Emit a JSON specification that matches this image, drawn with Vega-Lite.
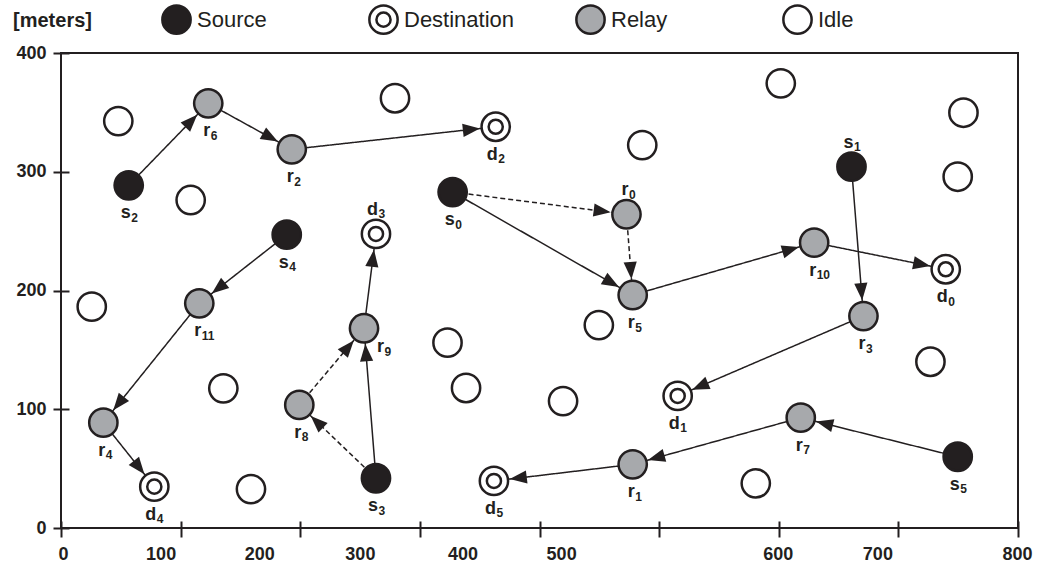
{
  "$schema": "https://vega.github.io/schema/vega-lite/v6.json",
  "autosize": {"type": "none"},
  "width": 957,
  "height": 475,
  "padding": {"left": 61, "top": 53, "right": 19, "bottom": 39},
  "background": "white",
  "config": {"font": "Liberation Sans", "view": {"stroke": "#231f20", "strokeWidth": 2}},
  "datasets": {
    "nodes": [
      {"id": "s0", "type": "Source", "letter": "s", "sub": "0", "lab": "below", "x": 327.4, "y": 282.9},
      {"id": "s1", "type": "Source", "letter": "s", "sub": "1", "lab": "above", "x": 660.8, "y": 304.3},
      {"id": "s2", "type": "Source", "letter": "s", "sub": "2", "lab": "below", "x": 56.6, "y": 288.6},
      {"id": "s3", "type": "Source", "letter": "s", "sub": "3", "lab": "below", "x": 263.3, "y": 41.9},
      {"id": "s4", "type": "Source", "letter": "s", "sub": "4", "lab": "below", "x": 188.7, "y": 247.0},
      {"id": "s5", "type": "Source", "letter": "s", "sub": "5", "lab": "below", "x": 749.6, "y": 60.0},
      {"id": "d0", "type": "Destination", "letter": "d", "sub": "0", "lab": "below", "x": 739.6, "y": 217.9},
      {"id": "d1", "type": "Destination", "letter": "d", "sub": "1", "lab": "below", "x": 515.5, "y": 111.2},
      {"id": "d2", "type": "Destination", "letter": "d", "sub": "2", "lab": "below", "x": 363.4, "y": 337.9},
      {"id": "d3", "type": "Destination", "letter": "d", "sub": "3", "lab": "above", "x": 263.3, "y": 247.6},
      {"id": "d4", "type": "Destination", "letter": "d", "sub": "4", "lab": "below", "x": 78.0, "y": 34.8},
      {"id": "d5", "type": "Destination", "letter": "d", "sub": "5", "lab": "below", "x": 361.9, "y": 39.6},
      {"id": "r0", "type": "Relay", "letter": "r", "sub": "0", "lab": "above", "x": 472.7, "y": 264.2},
      {"id": "r1", "type": "Relay", "letter": "r", "sub": "1", "lab": "below", "x": 477.9, "y": 53.6},
      {"id": "r2", "type": "Relay", "letter": "r", "sub": "2", "lab": "below", "x": 192.9, "y": 318.9},
      {"id": "r3", "type": "Relay", "letter": "r", "sub": "3", "lab": "below", "x": 670.8, "y": 178.5},
      {"id": "r4", "type": "Relay", "letter": "r", "sub": "4", "lab": "below", "x": 35.4, "y": 88.7},
      {"id": "r5", "type": "Relay", "letter": "r", "sub": "5", "lab": "below", "x": 477.9, "y": 196.2},
      {"id": "r6", "type": "Relay", "letter": "r", "sub": "6", "lab": "below", "x": 123.1, "y": 357.6},
      {"id": "r7", "type": "Relay", "letter": "r", "sub": "7", "lab": "below", "x": 618.4, "y": 92.9},
      {"id": "r8", "type": "Relay", "letter": "r", "sub": "8", "lab": "below", "x": 199.2, "y": 103.6},
      {"id": "r9", "type": "Relay", "letter": "r", "sub": "9", "lab": "right", "x": 253.3, "y": 168.2},
      {"id": "r10", "type": "Relay", "letter": "r", "sub": "10", "lab": "below", "x": 629.6, "y": 240.3},
      {"id": "r11", "type": "Relay", "letter": "r", "sub": "11", "lab": "below", "x": 115.6, "y": 189.2},
      {"id": "i1", "type": "Idle", "x": 47.9, "y": 342.7},
      {"id": "i2", "type": "Idle", "x": 108.4, "y": 276.2},
      {"id": "i3", "type": "Idle", "x": 279.2, "y": 361.9},
      {"id": "i4", "type": "Idle", "x": 601.7, "y": 374.5},
      {"id": "i5", "type": "Idle", "x": 754.4, "y": 349.7},
      {"id": "i6", "type": "Idle", "x": 485.9, "y": 322.5},
      {"id": "i7", "type": "Idle", "x": 749.6, "y": 295.8},
      {"id": "i8", "type": "Idle", "x": 25.7, "y": 186.4},
      {"id": "i9", "type": "Idle", "x": 323.1, "y": 156.1},
      {"id": "i10", "type": "Idle", "x": 135.7, "y": 117.6},
      {"id": "i11", "type": "Idle", "x": 338.6, "y": 117.9},
      {"id": "i12", "type": "Idle", "x": 449.6, "y": 170.9},
      {"id": "i13", "type": "Idle", "x": 419.7, "y": 106.9},
      {"id": "i14", "type": "Idle", "x": 726.8, "y": 140.0},
      {"id": "i15", "type": "Idle", "x": 580.8, "y": 37.6},
      {"id": "i16", "type": "Idle", "x": 158.8, "y": 32.8}
    ],
    "edges": [
      {"from": "s2", "to": "r6", "route": "primary"},
      {"from": "r6", "to": "r2", "route": "primary"},
      {"from": "r2", "to": "d2", "route": "primary"},
      {"from": "s4", "to": "r11", "route": "primary"},
      {"from": "r11", "to": "r4", "route": "primary"},
      {"from": "r4", "to": "d4", "route": "primary"},
      {"from": "s3", "to": "r9", "route": "primary"},
      {"from": "r9", "to": "d3", "route": "primary"},
      {"from": "s0", "to": "r5", "route": "primary"},
      {"from": "r5", "to": "r10", "route": "primary"},
      {"from": "r10", "to": "d0", "route": "primary"},
      {"from": "s1", "to": "r3", "route": "primary"},
      {"from": "r3", "to": "d1", "route": "primary"},
      {"from": "s5", "to": "r7", "route": "primary"},
      {"from": "r7", "to": "r1", "route": "primary"},
      {"from": "r1", "to": "d5", "route": "primary"},
      {"from": "s0", "to": "r0", "route": "alternate"},
      {"from": "r0", "to": "r5", "route": "alternate"},
      {"from": "s3", "to": "r8", "route": "alternate"},
      {"from": "r8", "to": "r9", "route": "alternate"}
    ]
  },
  "encoding": {
    "x": {
      "field": "x", "type": "quantitative", "scale": {"domain": [0, 800], "nice": false},
      "axis": {
        "values": [0, 100, 200, 300, 400, 500, 600, 700, 800], "title": null, "grid": false, "domain": false,
        "ticks": true, "offset": -7, "tickSize": 16, "tickWidth": 2, "tickColor": "#231f20",
        "labelFontSize": 18, "labelFontWeight": "bold", "labelColor": "#231f20", "labelPadding": 8,
        "labelFlush": false, "labelOverlap": false, "zindex": 1,
        "labelOffset": {"condition": [
          {"test": "datum.value === 0", "value": 2},
          {"test": "datum.value === 100", "value": -20},
          {"test": "datum.value === 200", "value": -41},
          {"test": "datum.value === 300", "value": -60},
          {"test": "datum.value === 400", "value": -77},
          {"test": "datum.value === 500", "value": -98},
          {"test": "datum.value === 700", "value": -21}
        ], "value": -1}
      }
    },
    "y": {
      "field": "y", "type": "quantitative", "scale": {"domain": [0, 400], "nice": false},
      "axis": {
        "values": [0, 100, 200, 300, 400], "title": "[meters]", "titleAngle": 0, "titleX": -17, "titleY": -33,
        "titleAlign": "center", "titleBaseline": "middle", "titleFontSize": 20, "titleFontWeight": "bold", "titleColor": "#231f20",
        "grid": false, "domain": false, "ticks": true, "offset": -8, "tickSize": 16, "tickWidth": 2, "tickColor": "#231f20",
        "labelFontSize": 18, "labelFontWeight": "bold", "labelColor": "#231f20", "labelPadding": 7,
        "labelFlush": false, "labelOverlap": false, "zindex": 1
      }
    }
  },
  "layer": [
    {
      "data": {"name": "edges"},
      "transform": [
        {"lookup": "from", "from": {"data": {"name": "nodes"}, "key": "id", "fields": ["x", "y"]}, "as": ["x", "y"]},
        {"lookup": "to", "from": {"data": {"name": "nodes"}, "key": "id", "fields": ["x", "y"]}, "as": ["x2", "y2"]}
      ],
      "mark": {"type": "rule", "stroke": "#231f20", "strokeWidth": 1.5},
      "encoding": {
        "x2": {"field": "x2"},
        "y2": {"field": "y2"},
        "strokeDash": {"field": "route", "type": "nominal", "scale": {"domain": ["primary", "alternate"], "range": [[1, 0], [5, 3]]}, "legend": null}
      }
    },
    {
      "data": {"name": "edges"},
      "transform": [
        {"lookup": "to", "from": {"data": {"name": "nodes"}, "key": "id", "fields": ["x", "y"]}, "as": ["x", "y"]},
        {"lookup": "from", "from": {"data": {"name": "nodes"}, "key": "id", "fields": ["x", "y"]}, "as": ["xs", "ys"]},
        {"calculate": "atan2(datum.x - datum.xs, datum.y - datum.ys) * 180 / PI", "as": "heading"}
      ],
      "mark": {"type": "point", "shape": "M0,0.53L0.22,1.1L-0.22,1.1Z", "size": 3600, "filled": true, "fill": "#231f20", "strokeWidth": 0, "opacity": 1},
      "encoding": {
        "angle": {"field": "heading", "type": "quantitative", "scale": null}
      }
    },
    {
      "data": {"name": "nodes"},
      "mark": {"type": "point", "filled": false, "size": 800, "strokeWidth": 2.5, "opacity": 1},
      "encoding": {
        "fill": {
          "field": "type", "type": "nominal",
          "scale": {"domain": ["Source", "Destination", "Relay", "Idle"], "range": ["#231f20", "#ffffff", "#a7a9ac", "#ffffff"]},
          "legend": {"orient": "none", "legendX": 100, "legendY": -49, "direction": "horizontal", "columns": 4, "gridAlign": "all", "columnPadding": 56, "title": null, "padding": 0, "symbolSize": 800, "symbolStrokeWidth": 2.5, "symbolStrokeColor": "#231f20", "labelFontSize": 22, "labelColor": "#231f20", "labelOffset": 5, "labelLimit": 300,
            "encode": {"symbols": {"stroke": {"value": "#231f20"}, "strokeWidth": {"value": 2.5}}}}
        },
        "stroke": {
          "field": "type", "type": "nominal",
          "scale": {"domain": ["Source", "Destination", "Relay", "Idle"], "range": ["#231f20", "#231f20", "#231f20", "#231f20"]},
          "legend": {"orient": "none", "legendX": 100, "legendY": -49, "direction": "horizontal", "columns": 4, "gridAlign": "all", "columnPadding": 56, "title": null, "padding": 0, "symbolSize": 800, "symbolStrokeWidth": 2.5, "labelFontSize": 22, "labelColor": "#231f20", "labelOffset": 5, "labelLimit": 300}
        },
        "shape": {
          "field": "type", "type": "nominal",
          "scale": {"domain": ["Source", "Destination", "Relay", "Idle"], "range": ["circle", "M1,0A1,1,0,1,1,-1,0A1,1,0,1,1,1,0ZM0.5,0A0.5,0.5,0,1,1,-0.5,0A0.5,0.5,0,1,1,0.5,0Z", "circle", "circle"]},
          "legend": {"orient": "none", "legendX": 100, "legendY": -49, "direction": "horizontal", "columns": 4, "gridAlign": "all", "columnPadding": 56, "title": null, "padding": 0, "symbolSize": 800, "symbolStrokeWidth": 2.5, "symbolStrokeColor": "#231f20", "labelFontSize": 22, "labelColor": "#231f20", "labelOffset": 5, "labelLimit": 300,
            "encode": {"symbols": {"stroke": {"value": "#231f20"}, "strokeWidth": {"value": 2.5}}}}
        }
      }
    },
    {
      "data": {"name": "nodes"},
      "transform": [{"filter": "isValid(datum.letter)"}],
      "mark": {"type": "text", "align": "right", "baseline": "alphabetic", "fontSize": 18, "fontWeight": "bold", "color": "#231f20",
        "dx": {"expr": "datum.lab === 'right' ? 20 : 2"},
        "dy": {"expr": "datum.lab === 'above' ? -19 : datum.lab === 'right' ? 24 : 33"}},
      "encoding": {
        "text": {"field": "letter"}
      }
    },
    {
      "data": {"name": "nodes"},
      "transform": [{"filter": "isValid(datum.letter)"}],
      "mark": {"type": "text", "align": "left", "baseline": "alphabetic", "fontSize": 12, "fontWeight": "bold", "color": "#231f20",
        "dx": {"expr": "datum.lab === 'right' ? 20.5 : 2.5"},
        "dy": {"expr": "datum.lab === 'above' ? -15.5 : datum.lab === 'right' ? 27.5 : 36.5"}},
      "encoding": {
        "text": {"field": "sub"}
      }
    }
  ]
}
